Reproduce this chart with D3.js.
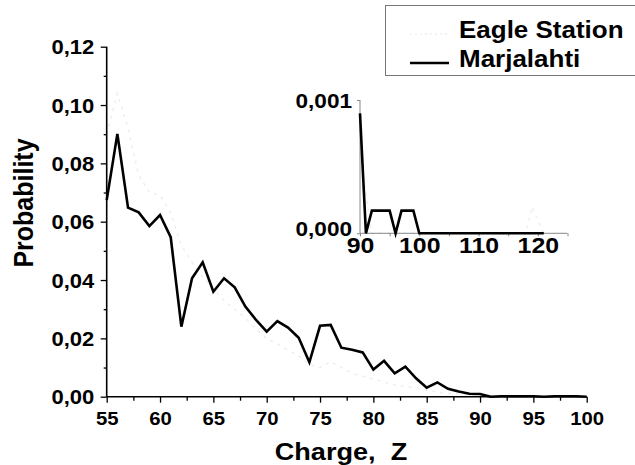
<!DOCTYPE html>
<html>
<head>
<meta charset="utf-8">
<script src="https://cdn.jsdelivr.net/npm/d3@7"></script>
<style>
  html, body { margin: 0; padding: 0; background: #fff; }
  svg { display: block; font-family: "Liberation Sans", Arial, sans-serif; font-weight: bold; }
</style>
</head>
<body>
<svg id="chart" width="635" height="465"></svg>
<script>
(function () {
	// charge values Z for the two series
	const charges = d3.range(55, 122);

	// Marjalahti, probability per charge (Z = 55 .. 121)
	const marjalahti = [
		0.0674, 0.0901, 0.0648, 0.0632, 0.0585, 0.0623, 0.0547, 0.0240, 0.0406, 0.0461,
		0.0360, 0.0406, 0.0375, 0.0309, 0.0263, 0.0223, 0.0259, 0.0237, 0.0202, 0.0118,
		0.0243, 0.0246, 0.0168, 0.0161, 0.0152, 0.0093, 0.0123, 0.0080, 0.0103, 0.0063,
		0.0031, 0.0049, 0.0027, 0.0018, 0.0010, 0.0009, 0.0000, 0.00017, 0.00017, 0.00017,
		0.00017, 0.0000, 0.00017, 0.00017, 0.00017, 0.0000, 0, 0, 0, 0,
		0, 0, 0, 0, 0, 0, 0, 0, 0, 0,
		0, 0, 0, 0, 0, 0, 0
	];

	// Eagle Station, drawn very faint in the original (Z = 55 .. 121)
	const eagleStation = [
		0.090, 0.104, 0.092, 0.076, 0.070, 0.069, 0.063, 0.052, 0.046, 0.041,
		0.037, 0.033, 0.030, 0.027, 0.023, 0.020, 0.018, 0.016, 0.014, 0.011,
		0.010, 0.012, 0.010, 0.008, 0.007, 0.006, 0.005, 0.004, 0.0035, 0.003,
		0.0022, 0.0016, 0.0012, 0.0009, 0.0007, 0.0006, 0.0003, 0, 0, 0,
		0, 0, 0, 0, 0, 0, 0, 0, 0, 0,
		0, 0, 0, 0, 0, 0, 0, 0, 0, 0,
		0, 0, 0, 0, 0.0002, 0.0001, 0
	];

	const mainXTicks = [55, 60, 65, 70, 75, 80, 85, 90, 95, 100];
	const mainYTicks = [0, 0.02, 0.04, 0.06, 0.08, 0.10, 0.12];
	const insetXTicks = [90, 100, 110, 120];
	const insetYTicks = [0, 0.001];
	const legendNames = ["Eagle Station", "Marjalahti"];

	const SX = 1.13; // the source picture is stretched sideways
	const faint = "#efefef";
	const fmtComma = (digits) => (v) => d3.format(`.${digits}f`)(v).replace(".", ",");

	const svg = d3.select("#chart");

	const rows = charges.map((z, i) => ({ z, m: marjalahti[i], e: eagleStation[i] }));

	function stretch(sel) {
		sel.each(function () {
			const x = +this.getAttribute("x") || 0;
			const y = +this.getAttribute("y") || 0;
			d3.select(this).attr("transform", `translate(${x},${y}) scale(${SX},1) translate(${-x},${-y})`);
		});
	}

	function styleText(sel, size) {
		sel.attr("fill", "#000")
			.style("font-size", size)
			.style("font-family", "\"Liberation Sans\", Arial, sans-serif")
			.style("font-weight", "bold");
	}

	// ---- main plot ----
	const x = d3.scaleLinear().domain([55, 100]).range([106.7, 586.7]);
	const y = d3.scaleLinear().domain([0, 0.12]).range([396.7, 46.7]);

	const mainRows = rows.filter((d) => d.z <= 100);

	svg.append("path")
		.datum(mainRows)
		.attr("fill", "none")
		.attr("stroke", faint)
		.attr("stroke-width", 1.6)
		.attr("stroke-dasharray", "3,5")
		.attr("d", d3.line().x((d) => x(d.z)).y((d) => y(d.e)));

	svg.append("path")
		.datum(mainRows)
		.attr("fill", "none")
		.attr("stroke", "#000")
		.attr("stroke-width", 2.6)
		.attr("d", d3.line().x((d) => x(d.z)).y((d) => y(d.m)));

	// minor ticks
	svg.append("g")
		.attr("transform", `translate(0,${y(0)})`)
		.call(d3.axisBottom(x).tickValues(d3.range(57.5, 100, 5)).tickSize(4).tickFormat(""))
		.call((g) => g.select(".domain").remove())
		.selectAll("line").attr("stroke-width", 1.3);

	svg.append("g")
		.attr("transform", `translate(${x(55)},0)`)
		.call(d3.axisLeft(y).tickValues(d3.range(0.01, 0.12, 0.02)).tickSize(3).tickFormat(""))
		.call((g) => g.select(".domain").remove())
		.selectAll("line").attr("stroke-width", 1.3);

	const xAxis = svg.append("g")
		.attr("transform", `translate(0,${y(0)})`)
		.call(d3.axisBottom(x).tickValues(mainXTicks).tickSize(6).tickPadding(10).tickFormat(d3.format("d")));
	xAxis.select(".domain").attr("d", `M${x(55)},0H${x(100)}`).attr("stroke-width", 1.6);
	xAxis.selectAll("line").attr("stroke-width", 1.3);
	xAxis.selectAll("text").call(styleText, "18px").call(stretch);

	const yAxis = svg.append("g")
		.attr("transform", `translate(${x(55)},0)`)
		.call(d3.axisLeft(y).tickValues(mainYTicks).tickSize(6).tickPadding(6.4).tickFormat(fmtComma(2)));
	yAxis.select(".domain").attr("d", `M0,${y(0.12)}V${y(0)}`).attr("stroke-width", 1.6);
	yAxis.selectAll("line").attr("stroke-width", 1.3);
	yAxis.selectAll("text").attr("dy", "0.36em").call(styleText, "19.5px").call(stretch);

	svg.append("text")
		.attr("x", 341)
		.attr("y", 460)
		.attr("text-anchor", "middle")
		.style("font-size", "24px")
		.style("white-space", "pre")
		.attr("xml:space", "preserve")
		.text("Charge,  Z")
		.call(stretch);

	svg.append("text")
		.attr("transform", `translate(33,203) scale(${SX},1) rotate(-90)`)
		.attr("text-anchor", "middle")
		.style("font-size", "25px")
		.text("Probability");

	// ---- inset ----
	const ix = d3.scaleLinear().domain([90, 125]).range([360, 567.5]);
	const iy = d3.scaleLinear().domain([0, 0.001]).range([233.3, 100]);
	const insetRows = rows.filter((d) => d.z >= 90);

	svg.append("path")
		.datum(insetRows)
		.attr("fill", "none")
		.attr("stroke", faint)
		.attr("stroke-width", 1.6)
		.attr("stroke-dasharray", "3,5")
		.attr("d", d3.line().x((d) => ix(d.z)).y((d) => iy(d.e)));

	const ixAxis = svg.append("g")
		.attr("transform", `translate(0,${iy(0)})`)
		.call(d3.axisBottom(ix).tickValues(d3.range(90, 126, 5)).tickSize(3).tickPadding(1)
			.tickFormat((d) => (insetXTicks.includes(d) ? d : "")));
	ixAxis.select(".domain").attr("d", `M${ix(90)},0H${ix(125)}`).attr("stroke", "#888");
	ixAxis.selectAll("line").attr("stroke", "#888");
	ixAxis.selectAll("text").call(styleText, "22px").call(stretch);

	const iyAxis = svg.append("g")
		.attr("transform", `translate(${ix(90)},0)`)
		.call(d3.axisLeft(iy).tickValues(insetYTicks).tickSize(3).tickPadding(5).tickFormat(fmtComma(3)));
	iyAxis.select(".domain").attr("d", `M0,${iy(0.001)}V${iy(0)}`).attr("stroke", "#888");
	iyAxis.selectAll("line").attr("stroke", "#888");
	iyAxis.selectAll("text")
		.attr("dy", (d) => (d === 0 ? "0.1em" : "0.36em"))
		.call(styleText, "20px")
		.call(stretch);

	svg.append("path")
		.datum(insetRows)
		.attr("fill", "none")
		.attr("stroke", "#000")
		.attr("stroke-width", 2.6)
		.attr("d", d3.line().x((d) => ix(d.z)).y((d) => iy(d.m)));

	// ---- legend ----
	const legend = svg.append("g");
	legend.append("rect")
		.attr("x", 385.5)
		.attr("y", 5.5)
		.attr("width", 260)
		.attr("height", 70)
		.attr("fill", "#fff")
		.attr("stroke", "#777")
		.attr("stroke-width", 1);

	const legendRows = legend.selectAll("g.item")
		.data(legendNames)
		.join("g")
		.attr("class", "item")
		.attr("transform", (d, i) => `translate(0,${i * 29})`);

	legendRows.append("line")
		.attr("x1", 410)
		.attr("x2", 449)
		.attr("y1", 34)
		.attr("y2", 34)
		.attr("stroke", (d, i) => (i === 0 ? faint : "#000"))
		.attr("stroke-width", (d, i) => (i === 0 ? 1.6 : 2.6))
		.attr("stroke-dasharray", (d, i) => (i === 0 ? "2,3" : null));

	legendRows.append("text")
		.attr("x", 459)
		.attr("y", 38)
		.style("font-size", "23px")
		.text((d) => d)
		.call(stretch);
})();
</script>
</body>
</html>
